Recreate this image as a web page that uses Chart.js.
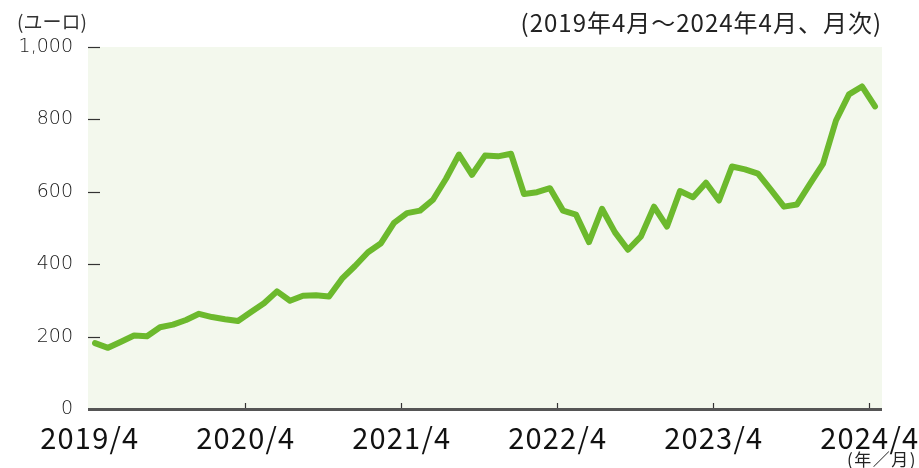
<!DOCTYPE html>
<html>
<head>
<meta charset="utf-8">
<script src="https://cdn.jsdelivr.net/npm/chart.js@4/dist/chart.umd.min.js"></script>
<style>
  html, body { margin: 0; padding: 0; background: #ffffff; }
  #wrap { position: relative; width: 919px; height: 468px; }
</style>
</head>
<body>
<div id="wrap"><canvas id="c" width="919" height="468"></canvas></div>
<script>
// Monthly values, 2019/4 .. 2024/4 (61 months), in euros
const prices = [
  182, 169, 186, 203, 201, 226, 233, 246, 263, 254, 248, 243,
  268, 292, 325, 299, 313, 314, 311, 360, 395, 433, 458, 514,
  541, 548, 578, 636, 703, 647, 700, 698, 705, 594, 599, 610,
  548, 537, 461, 553, 488, 440, 477, 559, 504, 602, 585, 625,
  576, 670, 662, 650, 605, 559, 565, 622, 677, 797, 869, 891,
  836
];
const xTickLabels = ['2019/4', '2020/4', '2021/4', '2022/4', '2023/4', '2024/4'];
const yTickValues = [0, 200, 400, 600, 800, 1000];
const unitLabel = '(ユーロ)';
const periodLabel = '(2019年4月～2024年4月、月次)';
const xUnitLabel = '(年／月)';

const FONT = '"Noto Sans CJK JP", "Noto Sans", sans-serif';
const YFONT = '"DejaVu Sans", "Noto Sans", sans-serif';

const points = prices.map((v, i) => ({ x: i, y: v }));

const decor = {
  id: 'decor',
  beforeDraw(chart) {
    const { ctx, chartArea: a } = chart;
    ctx.save();
    ctx.fillStyle = '#f3f8ed';
    ctx.fillRect(a.left, a.top, a.right - a.left, a.bottom - a.top);
    ctx.restore();
  },
  afterDatasetsDraw(chart) {
    const { ctx, chartArea: a, scales } = chart;
    ctx.save();
    // y tick marks (inside plot)
    ctx.strokeStyle = '#333333';
    ctx.lineWidth = 1.2;
    yTickValues.forEach(v => {
      if (v === 0) return;
      const y = Math.round(scales.y.getPixelForValue(v)) + 0.5;
      ctx.beginPath();
      ctx.moveTo(a.left, y);
      ctx.lineTo(a.left + 12, y);
      ctx.stroke();
    });
    // x tick marks (inside plot, upward) and x labels
    scales.x.ticks.forEach((t, i) => {
      const xp = scales.x.getPixelForValue(t.value);
      if (i > 0) {
        const x = Math.round(xp) + 0.5;
        ctx.strokeStyle = '#333333';
        ctx.lineWidth = 1.2;
        ctx.beginPath();
        ctx.moveTo(x, a.bottom);
        ctx.lineTo(x, a.bottom - 6);
        ctx.stroke();
      }
      ctx.fillStyle = '#111111';
      ctx.font = '29px ' + FONT;
      ctx.letterSpacing = '1.2px';
      ctx.textAlign = 'center';
      ctx.textBaseline = 'middle';
      ctx.fillText(xTickLabels[i], xp + 0.6, 438);
    });
    ctx.letterSpacing = '0px';
    // bottom axis line
    ctx.strokeStyle = '#555555';
    ctx.lineWidth = 3;
    ctx.beginPath();
    ctx.moveTo(a.left, a.bottom + 0.5);
    ctx.lineTo(a.right, a.bottom + 0.5);
    ctx.stroke();
    // texts
    ctx.fillStyle = '#333333';
    ctx.font = '19px ' + FONT;
    ctx.textBaseline = 'middle';
    ctx.textAlign = 'left';
    ctx.fillText(unitLabel, 17, 22);
    ctx.fillStyle = '#222222';
    ctx.font = '24px ' + FONT;
    ctx.letterSpacing = '1px';
    ctx.textAlign = 'right';
    ctx.fillText(periodLabel, 882, 23);
    ctx.font = '17px ' + FONT;
    ctx.letterSpacing = '1.5px';
    ctx.fillText(xUnitLabel, 917, 460);
    ctx.restore();
  }
};

new Chart(document.getElementById('c'), {
  type: 'line',
  data: {
    datasets: [{
      data: points,
      borderColor: '#6cb92d',
      borderWidth: 6,
      borderCapStyle: 'round',
      borderJoinStyle: 'round',
      pointRadius: 0,
      tension: 0,
      fill: false
    }]
  },
  options: {
    responsive: false,
    animation: false,
    layout: { padding: { top: 47, right: 37, left: 0, bottom: 0 } },
    plugins: { legend: { display: false }, tooltip: { enabled: false } },
    scales: {
      x: {
        type: 'linear',
        min: -0.54,
        max: 60.54,
        afterBuildTicks(scale) {
          scale.ticks = xTickLabels.map((_, k) => ({ value: 12 * k - 0.45 }));
        },
        afterFit(scale) { scale.height = 59; },
        grid: { display: false, drawTicks: false },
        border: { display: false },
        ticks: { display: false }
      },
      y: {
        min: 0,
        max: 1000,
        afterBuildTicks(scale) {
          scale.ticks = yTickValues.map(v => ({ value: v }));
        },
        afterFit(scale) { scale.width = 88; },
        grid: { display: false, drawTicks: false },
        border: { display: false },
        ticks: {
          padding: 15,
          color: '#1a1a1a',
          font: { family: YFONT, size: 19, weight: '300' },
          callback: v => v.toLocaleString('en-US')
        }
      }
    }
  },
  plugins: [decor]
});
</script>
</body>
</html>
